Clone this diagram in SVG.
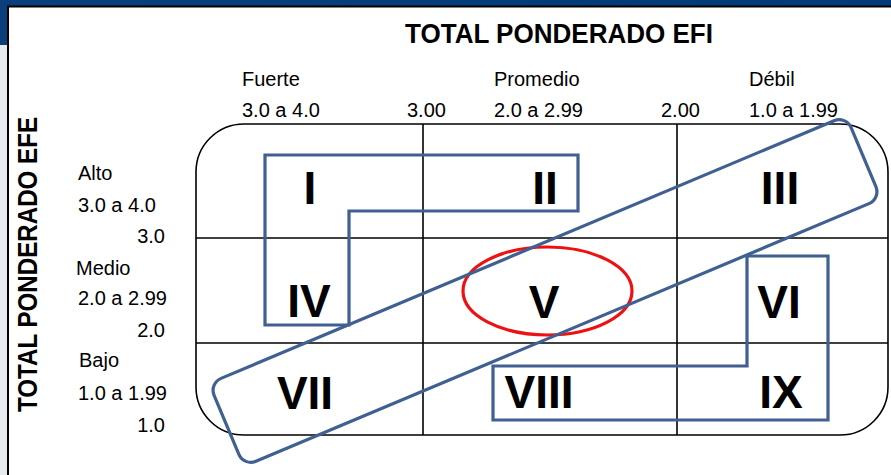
<svg xmlns="http://www.w3.org/2000/svg" width="891" height="475" viewBox="0 0 891 475">
<defs>
<style>
.lbl{font-family:"Liberation Sans",Arial,sans-serif;font-size:20px;fill:#000}
.rn{font-family:"Liberation Sans",Arial,sans-serif;font-size:46px;font-weight:bold;fill:#000;text-anchor:middle}
.ttl{font-family:"Liberation Sans",Arial,sans-serif;font-size:27px;font-weight:bold;fill:#000;text-anchor:middle}
.grid{fill:none;stroke:#000;stroke-width:1.6}
.blue{fill:none;stroke:#3f6090;stroke-width:3.2;stroke-linejoin:miter}
</style>
<linearGradient id="hdr" x1="0" y1="0" x2="1" y2="0">
<stop offset="0" stop-color="#0b3f7c"/>
<stop offset="1" stop-color="#003a78"/>
</linearGradient>
</defs>
<rect width="891" height="475" fill="#fff"/>
<g id="frame">
<rect x="0" y="0" width="891" height="6" fill="url(#hdr)"/>
<rect x="0" y="0" width="7" height="45" fill="#0b3f7c"/>
<rect x="0" y="45" width="7" height="430" fill="#e6ebf1"/>
<line x1="7" y1="6.5" x2="891" y2="6.5" stroke="#000" stroke-width="2"/>
<line x1="8" y1="6" x2="8" y2="475" stroke="#000" stroke-width="2"/>
</g>
<g id="titles">
<text class="ttl" x="559" y="43" textLength="308" lengthAdjust="spacingAndGlyphs">TOTAL PONDERADO EFI</text>
<text class="ttl" transform="translate(37,264.5) rotate(-90)" x="0" y="0" font-size="26" textLength="295" lengthAdjust="spacingAndGlyphs">TOTAL PONDERADO EFE</text>
</g>
<g id="col-labels">
<text class="lbl" x="242" y="86">Fuerte</text>
<text class="lbl" x="242" y="117">3.0 a 4.0</text>
<text class="lbl" x="407" y="117">3.00</text>
<text class="lbl" x="494" y="86">Promedio</text>
<text class="lbl" x="494" y="117">2.0 a 2.99</text>
<text class="lbl" x="661" y="117">2.00</text>
<text class="lbl" x="749" y="86">Débil</text>
<text class="lbl" x="749" y="117">1.0 a 1.99</text>
</g>
<g id="row-labels">
<text class="lbl" x="78" y="180">Alto</text>
<text class="lbl" x="78" y="212">3.0 a 4.0</text>
<text class="lbl" x="165" y="243" text-anchor="end">3.0</text>
<text class="lbl" x="76" y="275">Medio</text>
<text class="lbl" x="78" y="305">2.0 a 2.99</text>
<text class="lbl" x="165" y="337" text-anchor="end">2.0</text>
<text class="lbl" x="79" y="367">Bajo</text>
<text class="lbl" x="78" y="400">1.0 a 1.99</text>
<text class="lbl" x="165" y="432" text-anchor="end">1.0</text>
</g>
<g id="grid">
<rect class="grid" x="196" y="124" width="692" height="311" rx="48" ry="48" stroke-width="2"/>
<line class="grid" x1="423" y1="124" x2="423" y2="435"/>
<line class="grid" x1="677" y1="124" x2="677" y2="435"/>
<line class="grid" x1="196" y1="238" x2="888" y2="238"/>
<line class="grid" x1="196" y1="343" x2="888" y2="343"/>
</g>
<g id="cells">
<text class="rn" x="310" y="204">I</text>
<text class="rn" x="545" y="204">II</text>
<text class="rn" x="780" y="204">III</text>
<text class="rn" x="309" y="317">IV</text>
<text class="rn" x="544" y="318">V</text>
<text class="rn" x="779" y="318">VI</text>
<text class="rn" x="305" y="409">VII</text>
<text class="rn" x="539" y="408">VIII</text>
<text class="rn" x="781" y="408">IX</text>
</g>
<g id="highlight">
<ellipse cx="547.5" cy="291" rx="84.5" ry="44" fill="none" stroke="#ee1111" stroke-width="3.2"/>
</g>
<g id="zones">
<polygon class="blue" points="265,155 578,155 578,211 349,211 349,325 265,325"/>
<polygon class="blue" points="747,256 828,256 828,420 493,420 493,366 747,366"/>
<rect class="blue" x="-345.5" y="-45" width="691" height="90" rx="13" ry="13" transform="translate(545,291) rotate(-22.8)" stroke-width="3"/>
</g>
</svg>
